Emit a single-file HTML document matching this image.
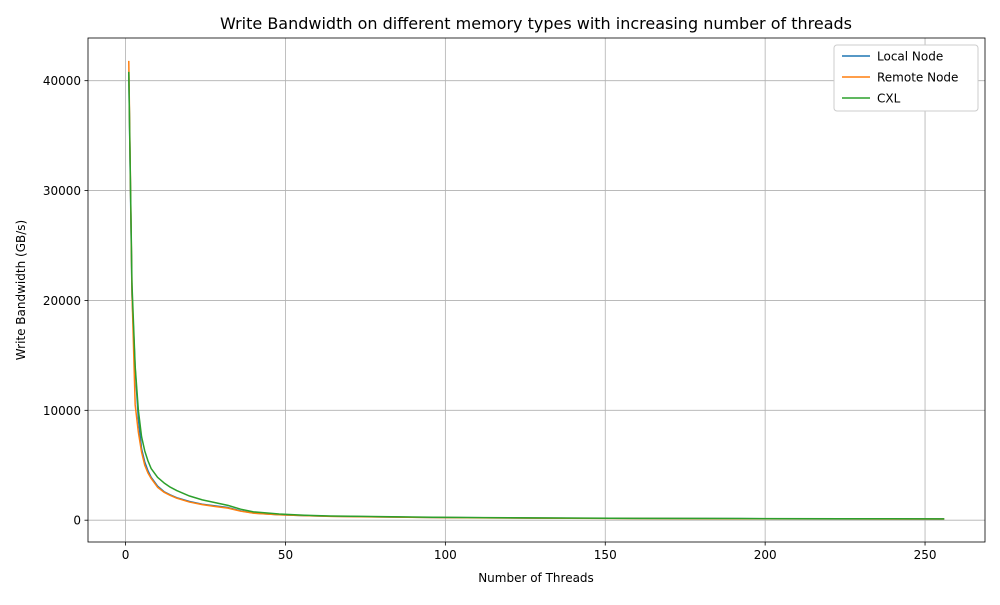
<!DOCTYPE html>
<html><head><meta charset="utf-8"><style>
body{margin:0;background:#fff;font-family:"Liberation Sans","DejaVu Sans",sans-serif}
svg text{font-family:"DejaVu Sans","Liberation Sans",sans-serif}
</style></head><body>
<svg id="c" width="1000" height="600" xmlns="http://www.w3.org/2000/svg"></svg>
<script>
const threads=[1,2,3,4,5,6,7,8,10,12,14,16,20,24,28,32,36,40,48,56,64,80,96,112,128,160,192,224,256];
const localNode=[40800,20500,13800,9200,6500,5300,4500,3900,3100,2600,2300,2050,1700,1450,1300,1150,850,650,500,420,360,300,250,220,190,160,140,120,110];
const remoteNode=[41800,20800,10500,8000,6200,5000,4300,3800,3000,2550,2250,2000,1650,1420,1250,1100,820,640,490,410,350,290,245,215,185,155,135,118,105];
const cxl=[40800,21500,14000,10000,7600,6300,5400,4700,3900,3400,3000,2700,2200,1850,1600,1350,1000,760,560,450,380,320,270,235,205,170,150,135,125];
const xTicks=[0,50,100,150,200,250];
const yTicks=[0,10000,20000,30000,40000];
const L=88,R=985,T=38,B=542;
const xmin=-11.75,xmax=268.75,ymin=-1985,ymax=43885;
const X=v=>L+(v-xmin)/(xmax-xmin)*(R-L);
const Y=v=>B-(v-ymin)/(ymax-ymin)*(B-T);
const svg=document.getElementById('c');const NS='http://www.w3.org/2000/svg';
function mk(t,a,p){const e=document.createElementNS(NS,t);for(const k in a)e.setAttribute(k,a[k]);(p||svg).appendChild(e);return e;}
let e;
e=mk('text',{x:536,y:29,'font-size':16,'text-anchor':'middle'});e.textContent='Write Bandwidth on different memory types with increasing number of threads';

xTicks.forEach(v=>{const x=X(v);
e=mk('line',{x1:x,x2:x,y1:T,y2:B,stroke:'#b0b0b0','stroke-width':0.8});
mk('line',{x1:x,x2:x,y1:B,y2:B+3.5,stroke:'#000','stroke-width':0.8});
e=mk('text',{x:x,y:B+17,'font-size':12,'text-anchor':'middle'});e.textContent=v;});
yTicks.forEach(v=>{const y=Y(v);
e=mk('line',{x1:L,x2:R,y1:y,y2:y,stroke:'#b0b0b0','stroke-width':0.8});
mk('line',{x1:L-3.5,x2:L,y1:y,y2:y,stroke:'#000','stroke-width':0.8});
e=mk('text',{x:L-7,y:y+4.5,'font-size':12,'text-anchor':'end'});e.textContent=v;});
const series=[['local-node-line',localNode,'#1f77b4'],['remote-node-line',remoteNode,'#ff7f0e'],['cxl-line',cxl,'#2ca02c']];
series.forEach(s=>{e=mk('polyline',{points:threads.map((t,i)=>X(t)+','+Y(s[1][i])).join(' '),fill:'none',stroke:s[2],'stroke-width':1.5,'stroke-linejoin':'round'});
});
e=mk('rect',{x:L,y:T,width:R-L,height:B-T,fill:'none',stroke:'#000','stroke-width':0.8});
e=mk('text',{x:536,y:582,'font-size':12,'text-anchor':'middle'});e.textContent='Number of Threads';
e=mk('text',{x:0,y:0,'font-size':12,'text-anchor':'middle',transform:'translate(25,290) rotate(-90)'});e.textContent='Write Bandwidth (GB/s)';
const g=mk('g',{});
mk('rect',{x:834,y:45,width:144,height:66,fill:'#fff',stroke:'#ccc',rx:3},g);
[['Local Node','#1f77b4'],['Remote Node','#ff7f0e'],['CXL','#2ca02c']].forEach((l,i)=>{const y=56+i*21;
const gi=mk('g',{},g);
mk('line',{x1:842,x2:870,y1:y,y2:y,stroke:l[1],'stroke-width':1.5},gi);
const t=mk('text',{x:877,y:y+4.5,'font-size':12},gi);t.textContent=l[0];});
</script>
</body></html>
